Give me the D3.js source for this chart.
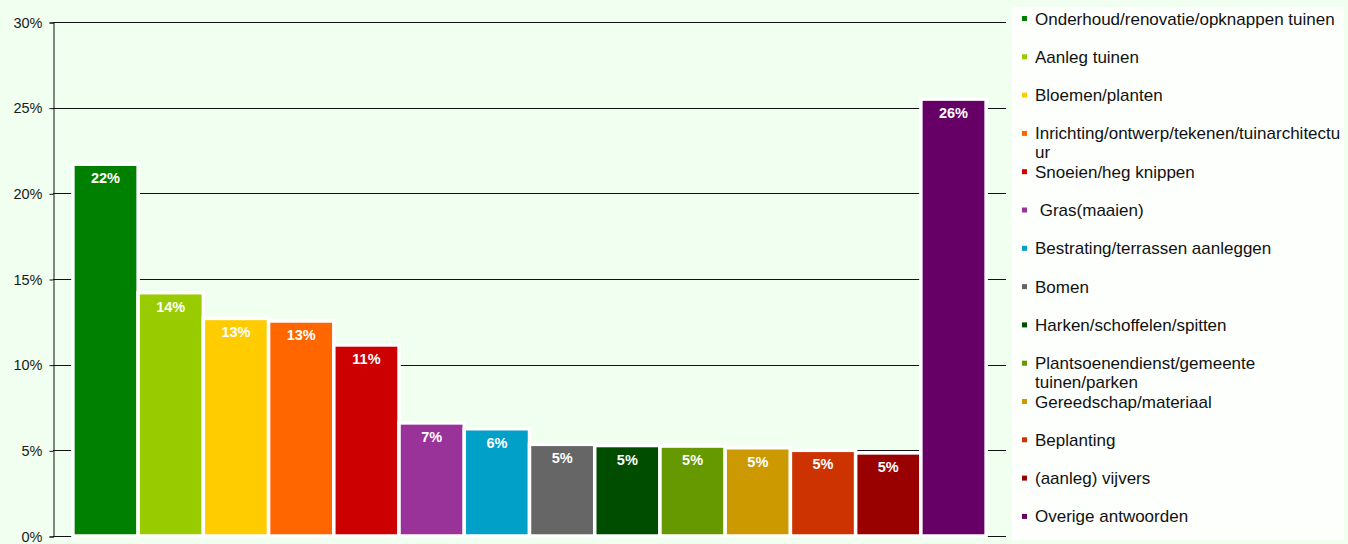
<!DOCTYPE html>
<html>
<head>
<meta charset="utf-8">
<script src="https://cdn.jsdelivr.net/npm/d3@7"></script>
<style>
  html, body { margin: 0; padding: 0; background: #F0FFF0; }
  svg { display: block; font-family: "Liberation Sans", Arial, sans-serif; }
</style>
</head>
<body>
<svg id="chart" width="1348" height="544"></svg>
<script>
// Categories (legend order = bar order)
const categories = [
  "Onderhoud/renovatie/opknappen tuinen",
  "Aanleg tuinen",
  "Bloemen/planten",
  "Inrichting/ontwerp/tekenen/tuinarchitectuur",
  "Snoeien/heg knippen",
  " Gras(maaien)",
  "Bestrating/terrassen aanleggen",
  "Bomen",
  "Harken/schoffelen/spitten",
  "Plantsoenendienst/gemeente tuinen/parken",
  "Gereedschap/materiaal",
  "Beplanting",
  "(aanleg) vijvers",
  "Overige antwoorden"
];

// Legend text, split into display lines
const legendLines = [
  ["Onderhoud/renovatie/opknappen tuinen"],
  ["Aanleg tuinen"],
  ["Bloemen/planten"],
  ["Inrichting/ontwerp/tekenen/tuinarchitectu", "ur"],
  ["Snoeien/heg knippen"],
  [" Gras(maaien)"],
  ["Bestrating/terrassen aanleggen"],
  ["Bomen"],
  ["Harken/schoffelen/spitten"],
  ["Plantsoenendienst/gemeente", "tuinen/parken"],
  ["Gereedschap/materiaal"],
  ["Beplanting"],
  ["(aanleg) vijvers"],
  ["Overige antwoorden"]
];

// Share of answers (%)
const values = [21.7, 14.2, 12.7, 12.55, 11.15, 6.6, 6.26, 5.35, 5.28, 5.25, 5.15, 5.0, 4.85, 25.5];

const colors = [
  "#008000", "#99CC00", "#FFCC00", "#FF6600", "#CC0000", "#993399", "#00A0C8",
  "#666666", "#004D00", "#669900", "#CC9900", "#CC3300", "#990000", "#660066"
];

const yTicks = [0, 5, 10, 15, 20, 25, 30];

const svg = d3.select("#chart");

const plot = { left: 53, right: 1006, top: 22, bottom: 536 };

const x = d3.scaleBand()
  .domain(categories)
  .range([plot.left, plot.right])
  .paddingInner(0)
  .paddingOuter(0.305);

const y = d3.scaleLinear()
  .domain([0, 30])
  .range([plot.bottom, plot.top]);

// Gridlines
svg.append("g")
  .selectAll("line")
  .data(yTicks)
  .join("line")
  .attr("x1", plot.left)
  .attr("x2", plot.right)
  .attr("y1", d => Math.round(y(d)) + 0.5)
  .attr("y2", d => Math.round(y(d)) + 0.5)
  .attr("stroke", "#111")
  .attr("stroke-width", 1);

// Y axis
const yAxis = d3.axisLeft(y)
  .tickValues(yTicks)
  .tickFormat(d => d + "%")
  .tickSize(4)
  .tickPadding(7);

const gy = svg.append("g")
  .attr("transform", `translate(${plot.left + 0.5},0.5)`)
  .call(yAxis);
gy.select(".domain").attr("stroke", "#111");
gy.selectAll(".tick line").attr("stroke", "#111");
gy.selectAll(".tick text")
  .attr("fill", "#1a1a1a")
  .style("font-size", "14.5px")
  .style("font-family", "'Liberation Sans', Arial, sans-serif");

// Bars
svg.append("g")
  .selectAll("rect")
  .data(values)
  .join("rect")
  .attr("x", (d, i) => x(categories[i]))
  .attr("y", d => y(d))
  .attr("width", x.bandwidth())
  .attr("height", d => y(0) - y(d))
  .attr("fill", (d, i) => colors[i])
  .attr("stroke", "#ffffff")
  .attr("stroke-width", 3.5);

// Value labels
svg.append("g")
  .selectAll("text")
  .data(values)
  .join("text")
  .attr("x", (d, i) => x(categories[i]) + x.bandwidth() / 2)
  .attr("y", d => y(d) + 19)
  .attr("text-anchor", "middle")
  .attr("fill", "#ffffff")
  .style("font-weight", "bold")
  .style("font-size", "14.5px")
  .text(d => Math.round(d) + "%");

// Legend
const legend = svg.append("g");
legend.append("rect")
  .attr("x", 1012)
  .attr("y", 7)
  .attr("width", 332)
  .attr("height", 533)
  .attr("fill", "#FCFFFC");

const legendTop = 18.5, legendStep = 38.3;
const items = legend.selectAll("g.item")
  .data(categories)
  .join("g")
  .attr("class", "item")
  .attr("transform", (d, i) => `translate(1022,${legendTop + i * legendStep})`);

items.append("rect")
  .attr("x", 0)
  .attr("y", -2.5)
  .attr("width", 5)
  .attr("height", 5)
  .attr("fill", (d, i) => colors[i]);

items.append("text")
  .attr("x", 13)
  .attr("y", 6)
  .attr("fill", "#111")
  .style("font-size", "17px")
  .style("white-space", "pre")
  .selectAll("tspan")
  .data((d, i) => legendLines[i])
  .join("tspan")
  .attr("x", 13)
  .attr("dy", (d, j) => j === 0 ? 0 : 19)
  .text(d => d);
</script>
</body>
</html>
